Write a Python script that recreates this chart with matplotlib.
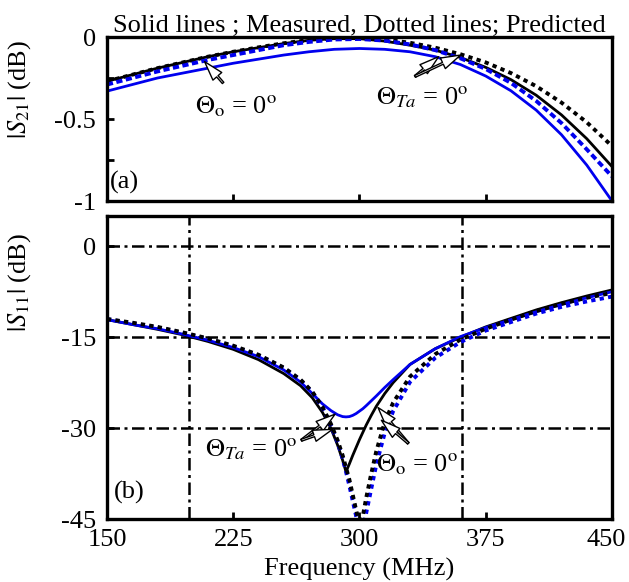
import matplotlib.pyplot as plt
from matplotlib.transforms import ScaledTranslation

plt.rcParams['font.family'] = 'Liberation Serif'
plt.rcParams['mathtext.fontset'] = 'stix'
plt.rcParams['axes.unicode_minus'] = False

# ---- datos (a) |S21| ----
frec_a = [150, 165, 180, 195, 210, 225, 240, 255, 270, 285, 300, 315, 330,
          345, 360, 375, 390, 405, 420, 435, 450]
s21_med_negro = [-0.27, -0.23, -0.19, -0.155, -0.12, -0.09, -0.065, -0.04, -0.02, -0.01, -0.01,
                 -0.025, -0.05, -0.08, -0.125, -0.185, -0.26, -0.355, -0.475, -0.62, -0.79]
s21_pred_negro = [-0.27, -0.23, -0.19, -0.155, -0.12, -0.09, -0.063, -0.038, -0.018, -0.006, -0.004,
                  -0.015, -0.035, -0.065, -0.105, -0.155, -0.22, -0.30, -0.40, -0.52, -0.665]
s21_med_azul = [-0.33, -0.29, -0.25, -0.22, -0.19, -0.16, -0.135, -0.11, -0.09, -0.075, -0.07,
                -0.075, -0.09, -0.12, -0.168, -0.238, -0.328, -0.446, -0.596, -0.781, -1.0]
s21_pred_azul = [-0.29, -0.25, -0.21, -0.175, -0.14, -0.11, -0.08, -0.05, -0.03, -0.015, -0.012,
                 -0.022, -0.045, -0.08, -0.13, -0.195, -0.28, -0.39, -0.525, -0.685, -0.85]

# ---- datos (b) |S11| ----
frec_b = [150, 165, 180, 195, 210, 225, 240, 255, 265, 272, 278, 283, 287, 290, 292, 294,
          296, 298, 300, 302, 304, 307, 310, 315, 320, 330, 345, 360, 375, 390, 405, 420, 435, 450]
s11_med_negro = [-12.1, -12.9, -13.7, -14.6, -15.7, -17.0, -18.7, -21.0, -23.0, -25.0, -27.4,
                 -30.0, -32.8, -35.3, -37.2, -35.9, -34.5, -33.2, -31.9, -30.7, -29.5, -27.9,
                 -26.4, -24.3, -22.5, -19.5, -16.9, -15.0, -13.3, -11.9, -10.5, -9.3, -8.2, -7.2]
s11_med_azul = [-12.1, -12.9, -13.6, -14.5, -15.5, -16.7, -18.2, -20.4, -22.4, -24.3, -26.0,
                -27.1, -27.8, -28.1, -28.15, -28.1, -27.9, -27.6, -27.2, -26.8, -26.3, -25.5,
                -24.7, -23.3, -22.0, -19.5, -16.9, -14.9, -13.4, -12.1, -10.8, -9.6, -8.5, -7.5]
s11_pred_negro = [-12.0, -12.6, -13.3, -14.2, -15.2, -16.4, -17.9, -20.0, -22.0, -24.0, -26.5,
                  -29.3, -32.0, -34.5, -36.5, -38.5, -41.0, -43.5, -46.0, -44.5, -41.5, -37.5,
                  -33.8, -29.0, -25.8, -21.5, -17.8, -15.4, -13.6, -12.1, -10.7, -9.5, -8.5, -7.7]
s11_pred_azul = [-12.0, -12.7, -13.4, -14.3, -15.3, -16.5, -18.0, -20.1, -22.1, -24.1, -26.6,
                 -29.5, -32.3, -35.0, -37.2, -39.5, -42.0, -44.5, -46.5, -46.5, -44.0, -40.0,
                 -36.0, -30.8, -27.2, -22.4, -18.4, -15.8, -13.9, -12.5, -11.1, -10.0, -9.1, -8.3]

lineas_v = [199, 361]       # limites de -15 dB
lineas_h = [0, -15, -30]

fs = 19
flecha = dict(arrowstyle='simple,head_length=1.0,head_width=0.6,tail_width=0.1',
              fc='white', ec='black', lw=1, mutation_scale=14, shrinkA=0, shrinkB=0)

fig = plt.figure(figsize=(6.29, 5.82), dpi=100)
ax1 = fig.add_axes([0.170, 0.6546, 0.803, 0.2818])
ax2 = fig.add_axes([0.170, 0.1082, 0.803, 0.5207])

# (a)
ax1.plot(frec_a, s21_med_negro, color='black', lw=2.0)
ax1.plot(frec_a, s21_med_azul, color='#0000ee', lw=2.0)
ax1.plot(frec_a, s21_pred_negro, color='black', lw=2.8, dashes=(1.1, 1.1))
ax1.plot(frec_a, s21_pred_azul, color='#0000ee', lw=2.8, dashes=(1.6, 0.9))
ax1.set_xlim(150, 450)
ax1.set_ylim(-1, 0)
ax1.set_yticks([-1, -0.75, -0.5, -0.25, 0])
ax1.set_yticklabels(['-1', '', '-0.5', '', '0'])
ax1.set_xticks([225, 300, 375])
ax1.set_xticklabels([])
ax1.set_ylabel(r'$|S_{21}|$ (dB)', fontsize=fs)
ax1.yaxis.set_label_coords(-0.146, 0.68)
ax1.set_title('Solid lines ; Measured, Dotted lines; Predicted', fontsize=fs, pad=4)
ax1.text(152, -0.96, '(a)', fontsize=fs, va='bottom', ha='left')
ax1.text(227, -0.42, r'$\Theta_{\rm o}$ = 0$^{\rm o}$', fontsize=fs, ha='center', va='center')
ax1.annotate('', xy=(208, -0.15), xytext=(219, -0.28), arrowprops=flecha)
ax1.text(337, -0.37, r'$\Theta_{Ta}$ = 0$^{\rm o}$', fontsize=fs, ha='center', va='center')
ax1.annotate('', xy=(347, -0.12), xytext=(333, -0.24), arrowprops=flecha)
ax1.annotate('', xy=(360, -0.11), xytext=(333, -0.24), arrowprops=flecha)

# (b)
for x in lineas_v:
    ax2.axvline(x, color='black', lw=1.8, dashes=(5, 1.8, 1.2, 1.8), zorder=1)
for y in lineas_h:
    ax2.axhline(y, color='black', lw=1.8, dashes=(5, 1.8, 1.2, 1.8), zorder=1)
ax2.plot(frec_b, s11_med_negro, color='black', lw=2.0)
ax2.plot(frec_b, s11_med_azul, color='#0000ee', lw=2.0)
ax2.plot(frec_b, s11_pred_azul, color='#0000ee', lw=2.8, dashes=(1.1, 1.1))
ax2.plot(frec_b, s11_pred_negro, color='black', lw=2.8, dashes=(1.1, 1.1))
ax2.set_xlim(150, 450)
ax2.set_ylim(-45, 5)
ax2.set_yticks([-45, -30, -15, 0])
ax2.set_xticks([150, 225, 300, 375, 450])
ax2.set_xlabel('Frequency (MHz)', fontsize=fs, labelpad=5)
ax2.set_ylabel(r'$|S_{11}|$ (dB)', fontsize=fs)
ax2.yaxis.set_label_coords(-0.146, 0.78)
ax2.text(154, -42.5, '(b)', fontsize=fs, va='bottom', ha='left')
ax2.text(236, -33.4, r'$\Theta_{Ta}$ = 0$^{\rm o}$', fontsize=fs, ha='center', va='center')
ax2.annotate('', xy=(285.5, -27.7), xytext=(265.5, -32.0), arrowprops=flecha)
ax2.annotate('', xy=(284, -30.2), xytext=(265.5, -32.0), arrowprops=flecha)
ax2.text(334, -36.0, r'$\Theta_{\rm o}$ = 0$^{\rm o}$', fontsize=fs, ha='center', va='center')
ax2.annotate('', xy=(311, -26.6), xytext=(329, -32.5), arrowprops=flecha)
ax2.annotate('', xy=(313, -28.7), xytext=(329, -32.5), arrowprops=flecha)

for ax in (ax1, ax2):
    for s in ax.spines.values():
        s.set_linewidth(2.4)
    ax.tick_params(direction='in', length=5, width=2, labelsize=fs, top=False, right=False)
    ax.tick_params(axis='y', pad=8)
ax2.tick_params(axis='x', pad=7)

# la etiqueta 450 queda pegada al borde
ultima = ax2.get_xticklabels()[-1]
ultima.set_transform(ultima.get_transform() + ScaledTranslation(-0.06, 0, fig.dpi_scale_trans))

fig.savefig('out.png', dpi=100)
